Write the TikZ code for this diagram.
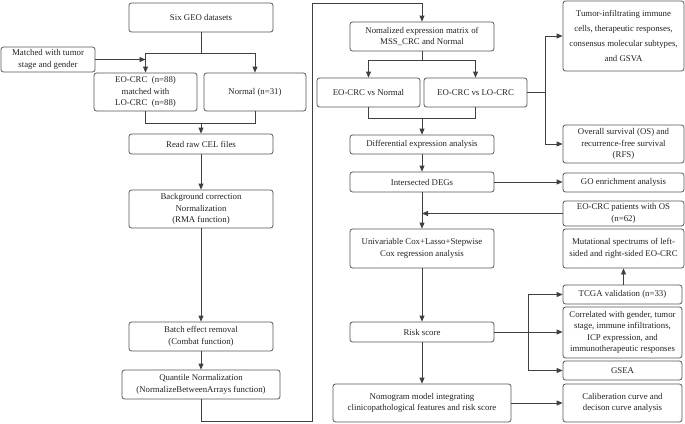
\documentclass[tikz,border=0pt]{standalone}
\usepackage{fontspec}
\setmainfont{Liberation Serif}
\usetikzlibrary{arrows.meta,calc}
\definecolor{lc}{HTML}{404040}
\definecolor{bc}{HTML}{555555}
\definecolor{tc}{HTML}{222222}
\tikzset{
  bx/.style={draw=bc, line width=0.8pt, rounded corners=2.5pt, align=center, inner sep=1pt,
    text=tc, font=\fontsize{8.8}{11.5}\selectfont},
  ln/.style={draw=lc, line width=0.8pt},
  arr/.style={ln, -{Triangle[length=6pt,width=5pt]}},
}
\newcommand{\bxat}[6]{\node[bx, minimum width=#4pt, minimum height=#5pt] (#1) at (#2pt,-#3pt) {#6};}
\begin{document}
\begin{tikzpicture}[x=1pt,y=1pt]
\useasboundingbox (0,0) rectangle (685,-423);
% left column
\bxat{six}{201}{17.5}{144}{29}{Six GEO datasets}
\bxat{matched}{48}{59.5}{94}{25}{Matched with tumor\\stage and gender}
\bxat{eo}{145.5}{92}{103}{38}{EO-CRC\enspace(n=88)\\matched with\\LO-CRC\enspace(n=88)}
\bxat{normal}{255}{92}{102}{38}{Normal (n=31)}
\bxat{read}{201}{144}{144}{20}{Read raw CEL files}
\bxat{bg}{201}{209}{144}{38}{Background correction\\Normalization\\(RMA function)}
\bxat{batch}{201}{336.5}{144}{29}{Batch effect removal\\(Combat function)}
\bxat{quant}{201}{384.5}{158}{29}{Quantile Normalization\\(NormalizeBetweenArrays function)}
% middle column
\bxat{nom}{422}{36.5}{144}{29}{Nomalized expression matrix of\\MSS\_CRC and Normal}
\bxat{evn}{368.5}{92.5}{103}{29}{EO-CRC vs Normal}
\bxat{evl}{475.5}{92.5}{103}{29}{EO-CRC vs LO-CRC}
\bxat{diff}{422}{144.5}{144}{19}{Differential expression analysis}
\bxat{inter}{422}{182}{144}{20}{Intersected DEGs}
\bxat{univ}{422}{248.5}{144}{39}{Univariable Cox+Lasso+Stepwise\\Cox regression analysis}
\bxat{risk}{422}{332}{144}{20}{Risk score}
\bxat{nomo}{422}{403}{178}{38}{Nomogram model integrating\\clinicopathological features and risk score}
% right column
\node[bx, minimum width=121pt, minimum height=70pt, font=\fontsize{8.8}{15.3}\selectfont] (tumor) at (623.5pt,-36pt)
  {Tumor-infiltrating immune\\cells, therapeutic responses,\\consensus molecular subtypes,\\and GSVA};
\bxat{os}{623.5}{144}{121}{38}{Overall survival (OS) and\\recurrence-free survival\\(RFS)}
\bxat{go}{623.5}{182.5}{121}{19}{GO enrichment analysis}
\bxat{eoos}{623.5}{213.5}{121}{25}{EO-CRC patients with OS\\(n=62)}
\bxat{mut}{623.5}{248.5}{121}{39}{Mutational spectrums of left-\\sided and right-sided EO-CRC}
\bxat{tcga}{622.5}{294.5}{119}{19}{TCGA validation (n=33)}
\bxat{corr}{622.5}{332.5}{119}{51}{Correlated with gender, tumor\\stage, immune infiltrations,\\ICP expression, and\\immunotherapeutic responses}
\bxat{gsea}{622.5}{370.5}{119}{19}{GSEA}
\bxat{cal}{622.5}{403}{119}{38}{Caliberation curve and\\decison curve analysis}
% junctions
\coordinate (j1) at (201,-53);
\coordinate (j2) at (201,-123);
\coordinate (c1) at (201,-421);
\coordinate (c2) at (312,-421);
\coordinate (c3) at (312,-3);
\coordinate (c4) at (422,-3);
\coordinate (j3) at (422,-60);
\coordinate (j4) at (422,-118);
\coordinate (j5) at (545,-92.5);
\coordinate (j6) at (528,-332);
% connectors left
\draw[ln] (six.south) -- (j1);
\draw[arr] (j1) -| (eo.north);
\draw[arr] (j1) -| (normal.north);
\draw[arr] (matched.east) -- (matched.east -| eo.north);
\draw[ln] (eo.south) |- (j2);
\draw[ln] (normal.south) |- (j2);
\draw[arr] (j2) -- (read.north);
\draw[arr] (read) -- (bg);
\draw[arr] (bg) -- (batch);
\draw[arr] (batch) -- (quant);
\draw[ln] (quant.south) -- (c1) -- (c2) -- (c3) -- (c4);
\draw[arr] (c4) -- (nom.north);
% middle
\draw[ln] (nom.south) -- (j3);
\draw[arr] (j3) -| (evn.north);
\draw[arr] (j3) -| (evl.north);
\draw[ln] (evn.south) |- (j4);
\draw[ln] (evl.south) |- (j4);
\draw[arr] (j4) -- (diff.north);
\draw[ln] (evl.east) -- (j5);
\draw[arr] (j5) |- (tumor.west);
\draw[arr] (j5) |- (os.west);
\draw[arr] (diff) -- (inter);
\draw[arr] (inter.east) -- (inter.east -| go.west);
\draw[arr] (inter) -- (univ);
\draw[arr] (eoos.west) -- (eoos.west -| inter.south);
\draw[arr] (tcga.north -| mut.south) -- (mut.south);
\draw[arr] (univ) -- (risk);
\draw[arr] (risk.east) -- (risk.east -| corr.west);
\draw[arr] (j6) |- (tcga.west);
\draw[arr] (j6) |- (gsea.west);
\draw[arr] (risk) -- (nomo);
\draw[arr] (nomo.east |- cal.west) -- (cal.west);
\end{tikzpicture}
\end{document}
